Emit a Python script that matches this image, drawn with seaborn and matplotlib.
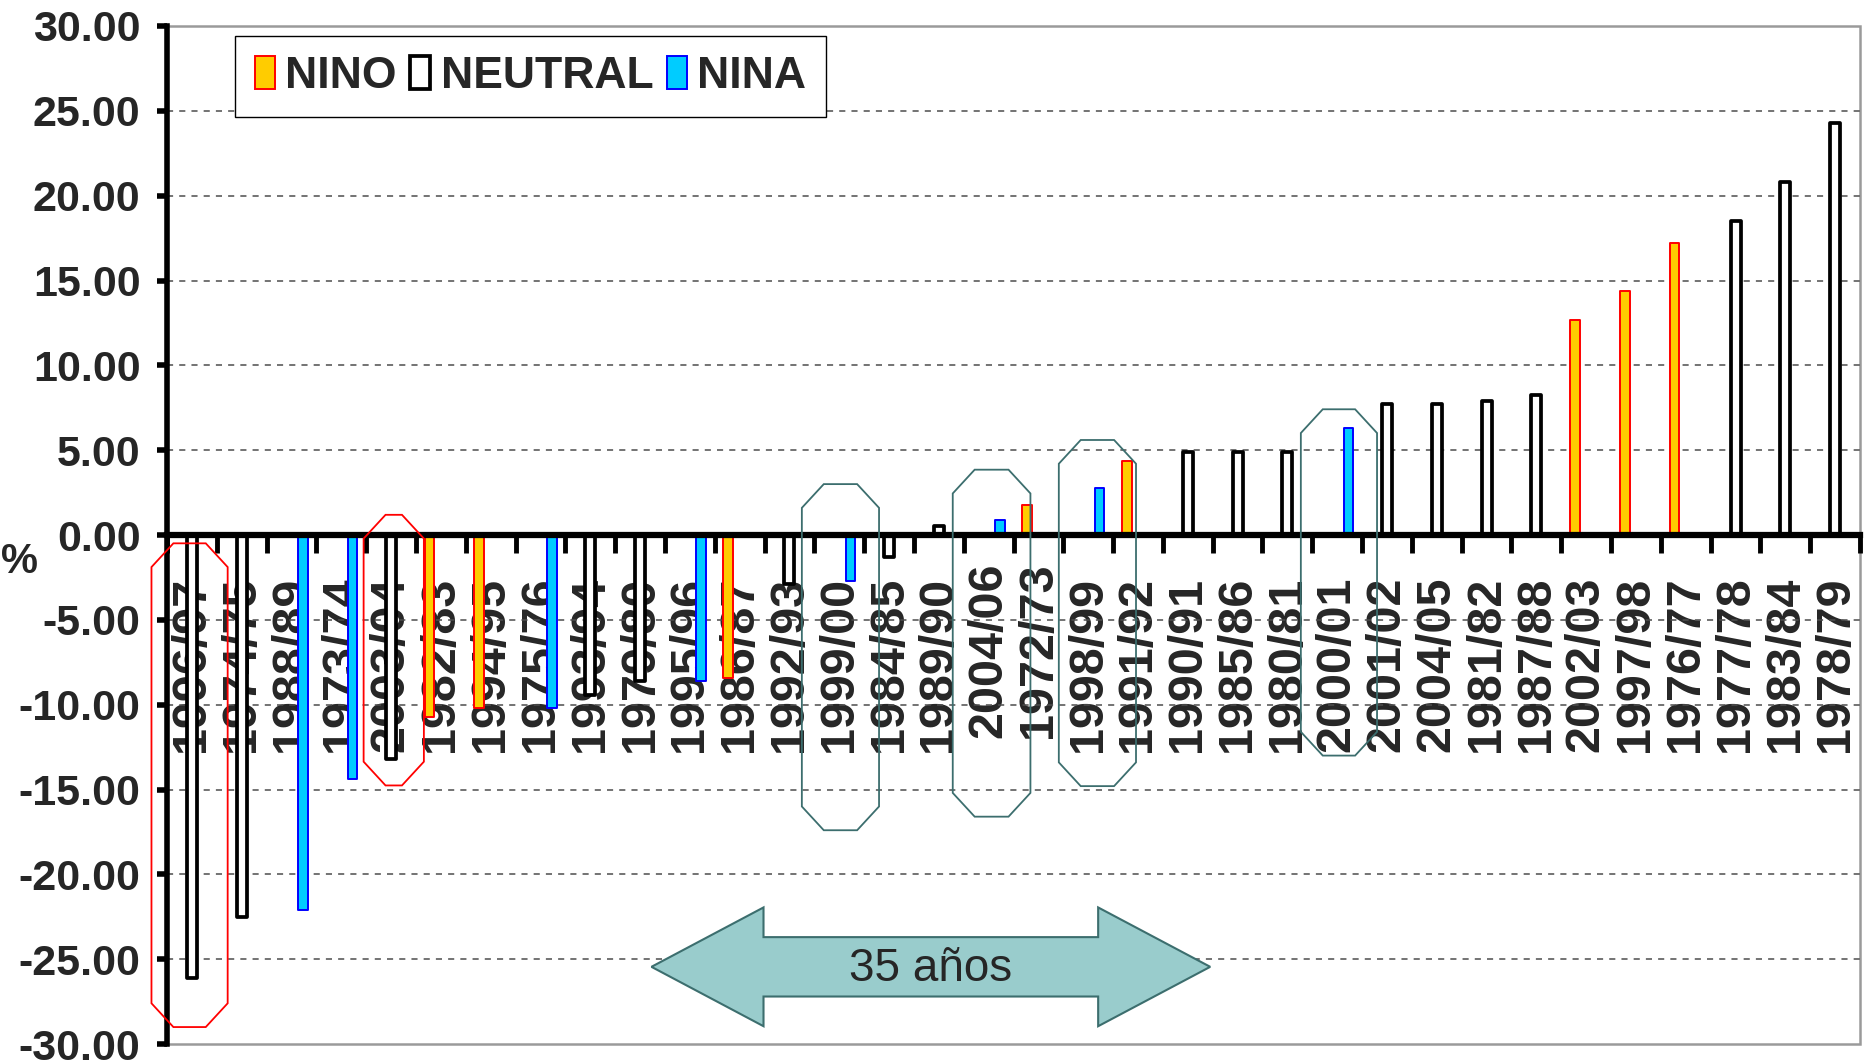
import numpy as np
import pandas as pd
import matplotlib
matplotlib.use("Agg")
import matplotlib.pyplot as plt
import matplotlib.transforms as mtransforms
import seaborn as sns
from matplotlib.patches import Polygon, Patch, Rectangle
from matplotlib.ticker import FixedLocator, FormatStrFormatter

# ---------------- data ----------------
seasons = ["1996/97", "1974/75", "1988/89", "1973/74", "2003/04", "1982/83", "1994/95",
           "1975/76", "1993/94", "1979/80", "1995/96", "1986/87", "1992/93", "1999/00",
           "1984/85", "1989/90", "2004/06", "1972/73", "1998/99", "1991/92", "1990/91",
           "1985/86", "1980/81", "2000/01", "2001/02", "2004/05", "1981/82", "1987/88",
           "2002/03", "1997/98", "1976/77", "1977/78", "1983/84", "1978/79"]
phase = ["NEUTRAL", "NEUTRAL", "NINA", "NINA", "NEUTRAL", "NINO", "NINO",
         "NINA", "NEUTRAL", "NEUTRAL", "NINA", "NINO", "NEUTRAL", "NINA",
         "NEUTRAL", "NEUTRAL", "NINA", "NINO", "NINA", "NINO", "NEUTRAL",
         "NEUTRAL", "NEUTRAL", "NINA", "NEUTRAL", "NEUTRAL", "NEUTRAL", "NEUTRAL",
         "NINO", "NINO", "NINO", "NEUTRAL", "NEUTRAL", "NEUTRAL"]
values = [-26.1, -22.5, -22.1, -14.4, -13.2, -10.7, -10.2,
          -10.2, -9.4, -8.6, -8.6, -8.4, -2.9, -2.7,
          -1.3, 0.55, 0.9, 1.75, 2.8, 4.35, 4.9,
          4.9, 4.9, 6.3, 7.75, 7.75, 7.9, 8.25,
          12.7, 14.4, 17.2, 18.5, 20.8, 24.3]
phase_order = ["NINO", "NEUTRAL", "NINA"]
y_ticks = [-30, -25, -20, -15, -10, -5, 0, 5, 10, 15, 20, 25, 30]
raised_labels = ["2004/06", "1972/73"]
arrow_label = "35 años"
y_label = "%"

# ---------------- styles ----------------
fill_colors = {"NINO": "#FFCC00", "NEUTRAL": "#FFFFFF", "NINA": "#00CCFF"}
edge_colors = {"NINO": "#FF0000", "NEUTRAL": "#000000", "NINA": "#0000FF"}
edge_widths = {"NINO": 1.4, "NEUTRAL": 2.7, "NINA": 1.4}
TEAL_EDGE = "#3C6E6E"
TEAL_FILL = "#99CCCC"

sns.set_theme(style="white")
plt.rcParams["font.family"] = ["Liberation Sans", "DejaVu Sans"]
plt.rcParams["axes.unicode_minus"] = False

df = pd.DataFrame({"season": seasons, "phase": phase, "value": values})

fig = plt.figure(figsize=(18.67, 10.61), dpi=100)
ax = fig.add_axes([0.0894, 0.016, 0.9069, 0.9595])

sns.barplot(data=df, x="season", y="value", hue="phase", order=seasons,
            hue_order=phase_order, palette=fill_colors, saturation=1,
            width=0.68, gap=0.12, dodge=True, errorbar=None, legend=False,
            ax=ax, zorder=1.5)

for level, cont in zip(phase_order, ax.containers):
    for p in cont.patches:
        p.set_facecolor(fill_colors[level])
        p.set_edgecolor(edge_colors[level])
        p.set_linewidth(edge_widths[level])
        p.set_joinstyle("round")

# ---------------- axes ----------------
n = len(seasons)
ax.set_xlim(-0.5, n - 0.5)
ax.set_ylim(y_ticks[0], y_ticks[-1])
ax.set_xlabel("")
ax.set_ylabel("")

for s in ["top", "right"]:
    ax.spines[s].set_visible(False)
ax.spines["bottom"].set_position(("data", 0))
ax.spines["bottom"].set_linewidth(4.5)
ax.spines["left"].set_linewidth(4)
ax.spines["bottom"].set_color("black")
ax.spines["left"].set_color("black")

# plot-area border
ax.add_patch(Rectangle((0, 0), 1, 1, transform=ax.transAxes, fill=False,
                       edgecolor="#9a9a9a", lw=1.8, zorder=0.5, clip_on=False))

# dashed gridlines
for yv in y_ticks:
    if yv not in (0, y_ticks[0], y_ticks[-1]):
        ax.axhline(yv, color="#4d4d4d", lw=1.1, ls=(0, (4, 4)), zorder=0.8)

ax.yaxis.set_major_locator(FixedLocator(y_ticks))
ax.yaxis.set_major_formatter(FormatStrFormatter("%.2f"))
ax.tick_params(axis="y", which="major", direction="out", length=7, width=4,
               pad=12, labelsize=31, color="black", left=True)
for lab in ax.get_yticklabels():
    lab.set_fontweight("bold")

ax.set_xticks(range(n))
ax.set_xticklabels(seasons, rotation=90, fontsize=35, fontweight="bold")
ax.tick_params(axis="x", which="major", length=0, pad=30, bottom=True)
ax.xaxis.set_minor_locator(FixedLocator(np.arange(-0.5, n, 1.0)))
ax.tick_params(axis="x", which="minor", direction="out", length=13, width=3.5,
               color="black", bottom=True)
lift = mtransforms.ScaledTranslation(0, 0.14, fig.dpi_scale_trans)
for lab in ax.get_xticklabels():
    if lab.get_text() in raised_labels:
        lab.set_transform(lab.get_transform() + lift)

ax.text(-0.087, -1.6, y_label, transform=ax.get_yaxis_transform(),
        ha="center", va="center", fontsize=30, fontweight="bold")

# ---------------- legend ----------------
handles = [Patch(facecolor=fill_colors[k], edgecolor=edge_colors[k],
                 linewidth=edge_widths[k]) for k in phase_order]
leg = ax.legend(handles, phase_order, loc="upper left", bbox_to_anchor=(0.040, 0.990),
                borderaxespad=0, ncol=3, prop={"size": 32, "weight": "bold"},
                handlelength=0.45, handleheight=0.75, handletextpad=0.24,
                columnspacing=0.3, borderpad=0.45, frameon=True, fancybox=False,
                framealpha=1)
leg.get_frame().set_edgecolor("black")
leg.get_frame().set_linewidth(1.0)

# ---------------- annotations ----------------
def octagon(x0, x1, y0, y1, dx=0.44, dy=1.4):
    return [(x0 + dx, y1), (x1 - dx, y1), (x1, y1 - dy), (x1, y0 + dy),
            (x1 - dx, y0), (x0 + dx, y0), (x0, y0 + dy), (x0, y1 - dy)]

red_boxes = [(-0.81, 0.72, -29.0, -0.49), (3.45, 4.66, -14.76, 1.19)]
teal_boxes = [(12.25, 13.80, -17.4, 3.0), (15.28, 16.84, -16.6, 3.85),
              (17.41, 18.96, -14.8, 5.6), (22.27, 23.80, -13.0, 7.41)]
for b in red_boxes:
    ax.add_patch(Polygon(octagon(*b), closed=True, fill=False, edgecolor="#FF0000",
                         lw=1.3, zorder=4, clip_on=False))
for b in teal_boxes:
    ax.add_patch(Polygon(octagon(*b), closed=True, fill=False, edgecolor=TEAL_EDGE,
                         lw=1.3, zorder=4, clip_on=False))

xl, xhl, xhr, xr = 9.23, 11.48, 18.20, 20.45
yc, hh, sh = -25.45, 3.5, 1.75
arrow_pts = [(xl, yc), (xhl, yc + hh), (xhl, yc + sh), (xhr, yc + sh), (xhr, yc + hh),
             (xr, yc), (xhr, yc - hh), (xhr, yc - sh), (xhl, yc - sh), (xhl, yc - hh)]
ax.add_patch(Polygon(arrow_pts, closed=True, facecolor=TEAL_FILL, edgecolor=TEAL_EDGE,
                     lw=1.5, zorder=3))
ax.text((xl + xr) / 2, yc - 0.1, arrow_label, ha="center", va="center",
        fontsize=33, zorder=5)

fig.savefig("out.png", dpi=100)
